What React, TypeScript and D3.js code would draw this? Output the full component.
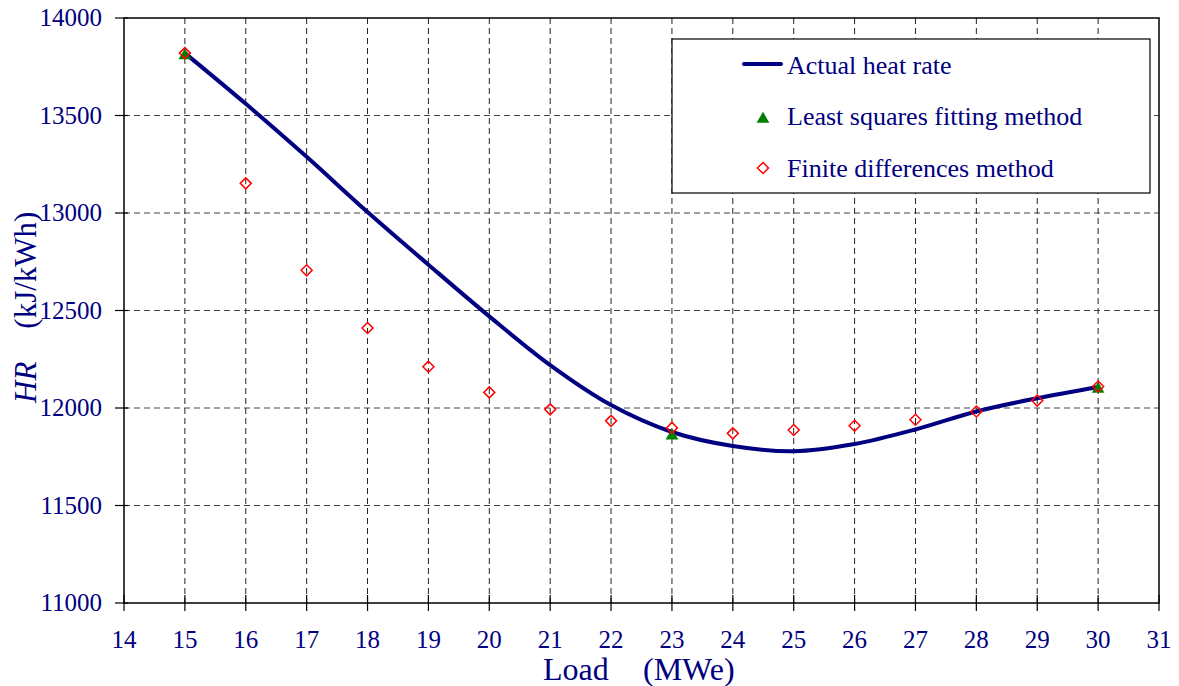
import React from "react";
import * as d3 from "d3";

const loads = [15, 16, 17, 18, 19, 20, 21, 22, 23, 24, 25, 26, 27, 28, 29, 30];
const actualHR = [13820, 13560, 13288, 13005, 12735, 12470, 12220, 12015, 11877, 11805, 11778, 11815, 11890, 11982, 12050, 12108];
const fdHR = [13820, 13152, 12706, 12410, 12212, 12080, 11993, 11934, 11898, 11870, 11887, 11909, 11940, 11982, 12038, 12110];
const lsLoads = [15, 23, 30];
const lsHR = [13812, 11862, 12102];
const xTicks = d3.range(14, 32);
const yTicks = [11000, 11500, 12000, 12500, 13000, 13500, 14000];

const W = 1179, H = 686;
const L = 124, R = 1159, T = 18, B = 603;
const navy = "#000080";
const font = "'Liberation Serif', 'Times New Roman', serif";

export default function App() {
  const x = d3.scaleLinear().domain([14, 31]).range([L, R]);
  const y = d3.scaleLinear().domain([11000, 14000]).range([B, T]);
  const line = d3.line<number>().x((_, i) => x(loads[i])).y((d) => y(d)).curve(d3.curveCatmullRom.alpha(0.5));
  const tri = d3.symbol().type(d3.symbolTriangle).size(70)();
  const dia = (cx: number, cy: number) => `M${cx},${cy - 5.5}L${cx + 5.5},${cy}L${cx},${cy + 5.5}L${cx - 5.5},${cy}Z`;

  return (
    <svg width={W} height={H} style={{ position: "absolute", left: 0, top: 0, fontFamily: font }}>
      <rect x={0} y={0} width={W} height={H} fill="#fff" />
      {xTicks.slice(1, -1).map((t) => (
        <line key={"gx" + t} x1={x(t)} x2={x(t)} y1={T} y2={B} stroke="#222" strokeWidth={1} strokeDasharray="6,4" />
      ))}
      {yTicks.slice(1, -1).map((t) => (
        <line key={"gy" + t} x1={L} x2={R} y1={y(t)} y2={y(t)} stroke="#444" strokeWidth={1} strokeDasharray="6,4" />
      ))}
      <rect x={L} y={T} width={R - L} height={B - T} fill="none" stroke="#000" strokeWidth={1.5} />
      {xTicks.map((t) => (
        <g key={"tx" + t}>
          <line x1={x(t)} x2={x(t)} y1={B - 8} y2={B + 8} stroke="#000" strokeWidth={1.2} />
          <text x={x(t)} y={648} textAnchor="middle" fontSize={25} fill={navy}>{t}</text>
        </g>
      ))}
      {yTicks.map((t) => (
        <g key={"ty" + t}>
          <line x1={L - 9} x2={L + 4} y1={y(t)} y2={y(t)} stroke="#000" strokeWidth={1.2} />
          <text x={102} y={y(t) + 8} textAnchor="end" fontSize={25} fill={navy}>{t}</text>
        </g>
      ))}
      <path d={line(actualHR) || ""} fill="none" stroke={navy} strokeWidth={4} />
      {lsLoads.map((l, i) => (
        <path key={"ls" + l} d={tri} transform={`translate(${x(l)},${y(lsHR[i]) + 1})`} fill="#008000" />
      ))}
      {loads.map((l, i) => (
        <path key={"fd" + l} d={dia(x(l), y(fdHR[i]))} fill="none" stroke="#ff0000" strokeWidth={1.5} />
      ))}
      <rect x={672} y={39} width={478} height={154} fill="#fff" stroke="#000" strokeWidth={1.2} />
      <line x1={744} x2={781} y1={64} y2={64} stroke={navy} strokeWidth={4} strokeLinecap="round" />
      <text x={787} y={74} fontSize={26} fill={navy}>Actual heat rate</text>
      <path d={tri} transform="translate(763,119)" fill="#008000" />
      <text x={787} y={125} fontSize={26} fill={navy}>Least squares fitting method</text>
      <path d={dia(763, 168)} fill="none" stroke="#ff0000" strokeWidth={1.5} />
      <text x={787} y={177} fontSize={26} fill={navy}>Finite differences method</text>
      <text x={543} y={680} fontSize={32} fill={navy}>Load</text>
      <text x={643} y={680} fontSize={32} fill={navy}>(MWe)</text>
      <text transform="translate(36,403) rotate(-90)" textAnchor="start" fontSize={31} fill={navy}>
        <tspan fontStyle="italic">HR</tspan>
        <tspan dx={33}>(kJ/kWh)</tspan>
      </text>
    </svg>
  );
}
